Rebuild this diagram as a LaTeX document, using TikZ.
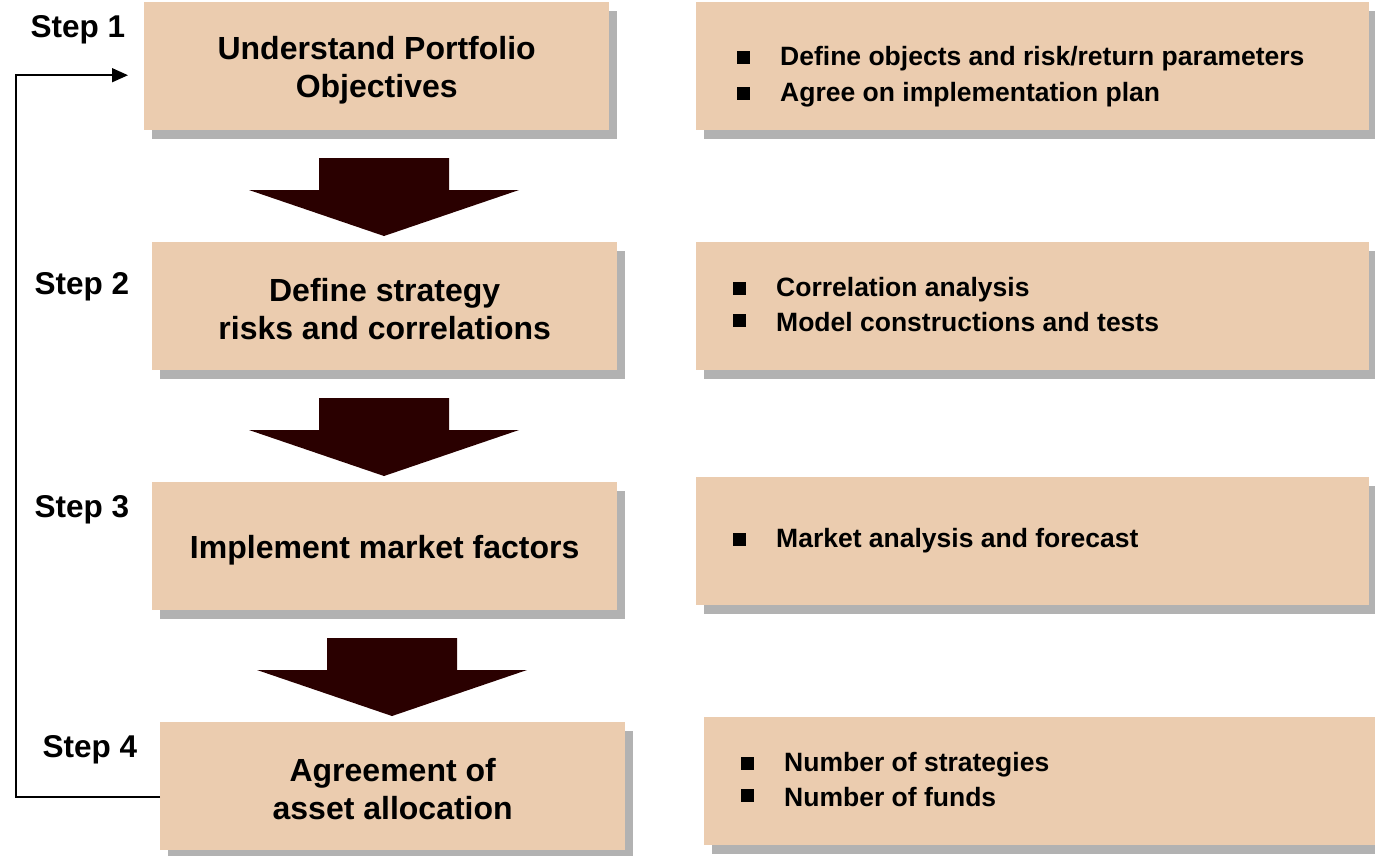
\documentclass[tikz,border=0pt]{standalone}
\usepackage{fontspec}
\setmainfont{Liberation Sans}
\usetikzlibrary{shadows,arrows.meta}
\definecolor{boxfill}{HTML}{EBCCAF}
\definecolor{shadowgray}{HTML}{B2B2B2}
\definecolor{arrowfill}{HTML}{2A0000}
\tikzset{
  x=1pt,y=-1pt,
  stepbox/.style={anchor=north west,fill=boxfill,minimum width=465pt,minimum height=128pt,inner sep=0pt,
    drop shadow={shadow xshift=8pt,shadow yshift=-9pt,fill=shadowgray,opacity=1}},
  steptext/.style={align=center,inner sep=0pt,font=\bfseries\fontsize{32}{38}\selectfont},
  notebox/.style={anchor=north west,fill=boxfill,minimum width=673pt,minimum height=128pt,inner sep=0pt,
    drop shadow={shadow xshift=8pt,shadow yshift=-9pt,fill=shadowgray,opacity=1}},
  steplabel/.style={font=\bfseries\fontsize{31.5}{36}\selectfont,inner sep=0pt},
  bullettext/.style={anchor=west,font=\bfseries\fontsize{26.5}{30}\selectfont,inner sep=0pt},
  bulletsq/.style={fill=black,minimum size=13pt,inner sep=0pt},
  blockarrow/.style={fill=arrowfill},
  fb/.style={line width=1.5pt,-{Triangle[length=16pt,width=14pt]}}
}
\begin{document}
\begin{tikzpicture}
\useasboundingbox (0,0) rectangle (1375,855);
% left step boxes
\node[stepbox] (b1) at (144,2) {};
\node[stepbox] (b2) at (152,242) {};
\node[stepbox] (b3) at (152,482) {};
\node[stepbox] (b4) at (160,722) {};
\node[steptext] (b1t) at ([yshift=-4pt]b1.center) {Understand Portfolio\\Objectives};
\node[steptext] (b2t) at ([yshift=-3pt]b2.center) {Define strategy\\risks and correlations};
\node[steptext] (b3t) at ([yshift=-4pt]b3.center) {Implement market factors};
\node[steptext] (b4t) at ([yshift=-3pt]b4.center) {Agreement of\\asset allocation};
% right note boxes
\node[notebox] (r1) at (696,2) {};
\node[notebox] (r2) at (696,242) {};
\node[notebox] (r3) at (696,477) {};
\node[notebox] (r4) at (704,717) {};
% step labels
\node[steplabel] (s1) at (78,30) {Step 1};
\node[steplabel] (s2) at (82,287) {Step 2};
\node[steplabel] (s3) at (82,510) {Step 3};
\node[steplabel] (s4) at (90,750) {Step 4};
% bullets
\node[bulletsq] (q11) at (743.5,57) {};
\node[bullettext] (t11) at (780,59) {Define objects and risk/return parameters};
\node[bulletsq] (q12) at (743.5,93) {};
\node[bullettext] (t12) at (780,95) {Agree on implementation plan};
\node[bulletsq] (q21) at (739.5,288) {};
\node[bullettext] (t21) at (776,290) {Correlation analysis};
\node[bulletsq] (q22) at (739.5,320) {};
\node[bullettext] (t22) at (776,322) {Model constructions and tests};
\node[bulletsq] (q31) at (739.5,539) {};
\node[bullettext] (t31) at (776,541) {Market analysis and forecast};
\node[bulletsq] (q41) at (747.5,763) {};
\node[bullettext] (t41) at (784,765) {Number of strategies};
\node[bulletsq] (q42) at (747.5,795) {};
\node[bullettext] (t42) at (784,797) {Number of funds};
% block arrows
\foreach \dx/\dy in {0/0,0/240,8/480}{
  \fill[blockarrow,shift={(\dx,\dy)}] (319,158) -- (449,158) -- (449,190) -- (519,190) -- (384,236) -- (249,190) -- (319,190) -- cycle;
}
% feedback connector
\draw[fb,shorten >=16pt] ([yshift=-11pt]b4.west) -- ++(-144,0) |- ([yshift=-9pt]b1.west);
\end{tikzpicture}
\end{document}
